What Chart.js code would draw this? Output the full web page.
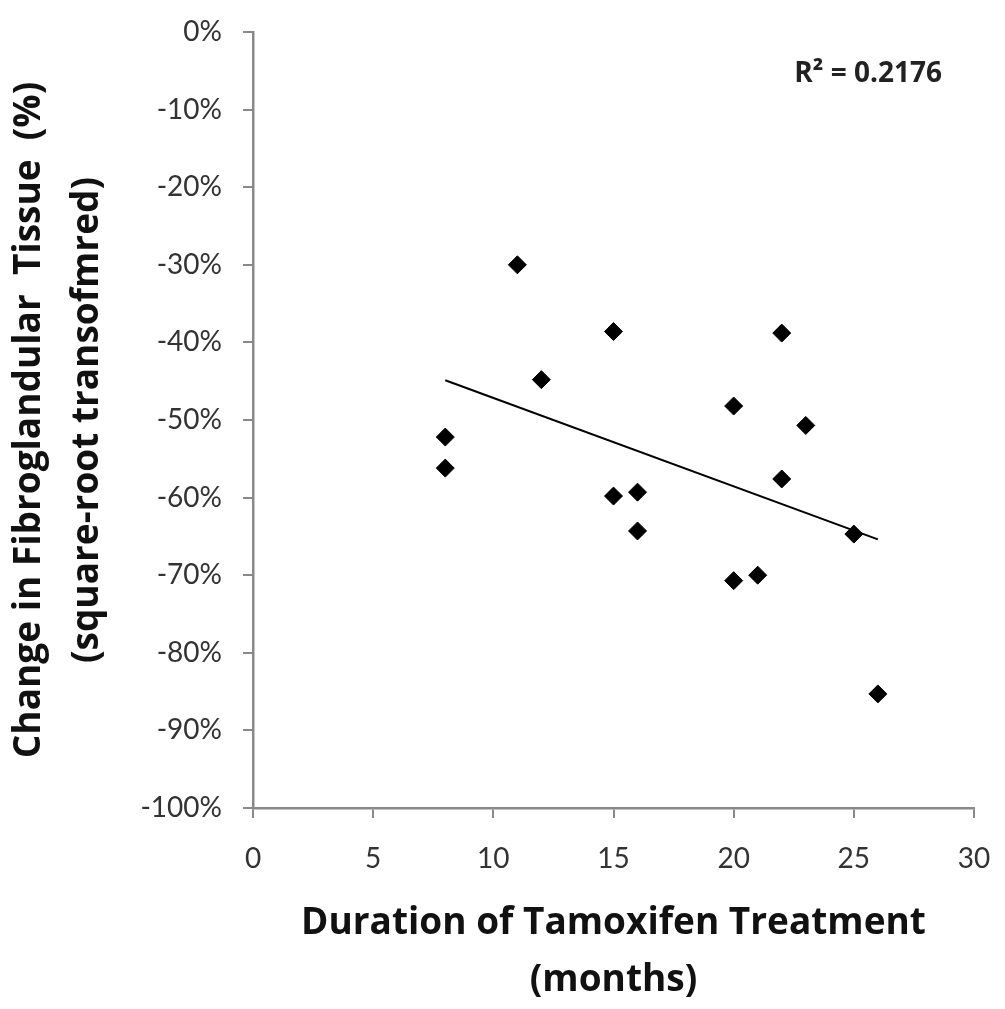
<!DOCTYPE html>
<html>
<head>
<meta charset="utf-8">
<script src="https://cdn.jsdelivr.net/npm/chart.js@4"></script>
<style>
  html, body { margin: 0; padding: 0; background: #fff; }
  #wrap { width: 1005px; height: 1009px; }
</style>
</head>
<body>
<div id="wrap"><canvas id="chart" width="1005" height="1009"></canvas></div>
<script>
// duration of treatment (months) and change in tissue (%) per patient
const months = [8, 8, 11, 12, 15, 15, 16, 16, 20, 20, 21, 22, 22, 23, 25, 26];
const change = [-52.2, -56.2, -30.0, -44.8, -38.6, -59.8, -59.3, -64.3, -48.2, -70.7, -70.0, -38.8, -57.6, -50.7, -64.7, -85.3];

const xTitle = ["Duration of Tamoxifen Treatment", "(months)"];
const yTitle = ["Change in Fibroglandular  Tissue  (%)", "(square-root transofmred)"];
const r2Text = "R\u00B2 = 0.2176";

const axisGrey = "#898989";
const labelColor = "#333";

// linear trend line (least squares) over the data range
const fitLine = (xs, ys) => {
  const n = xs.length;
  const mx = xs.reduce((a, b) => a + b, 0) / n;
  const my = ys.reduce((a, b) => a + b, 0) / n;
  let sxy = 0;
  let sxx = 0;
  xs.forEach((x, i) => {
    sxy += (x - mx) * (ys[i] - my);
    sxx += (x - mx) * (x - mx);
  });
  const slope = sxy / sxx;
  const x0 = Math.min(...xs);
  const x1 = Math.max(...xs);
  return [
    { x: x0, y: my + slope * (x0 - mx) },
    { x: x1, y: my + slope * (x1 - mx) },
  ];
};

const points = months.map((m, i) => ({ x: m, y: change[i] }));

const r2Label = {
  id: "r2Label",
  afterDatasetsDraw(chart) {
    const { ctx, chartArea } = chart;
    ctx.save();
    ctx.font = "bold 28px 'Open Sans'";
    ctx.fillStyle = "#222";
    ctx.textAlign = "right";
    ctx.textBaseline = "alphabetic";
    ctx.fillText(r2Text, chartArea.right - 32, chartArea.top + 50);
    ctx.restore();
  },
};

new Chart(document.getElementById("chart"), {
  type: "scatter",
  data: {
    datasets: [
      {
        label: "data",
        data: points,
        pointStyle: "rectRot",
        pointRadius: 9,
        pointBackgroundColor: "#000",
        pointBorderColor: "#000",
        pointBorderWidth: 1,
        order: 1,
      },
      {
        type: "line",
        label: "trend",
        data: fitLine(months, change),
        borderColor: "#000",
        borderWidth: 2,
        pointRadius: 0,
        fill: false,
        order: 2,
      },
    ],
  },
  options: {
    responsive: false,
    animation: false,
    layout: { padding: { top: 32, right: 31, left: 0, bottom: 0 } },
    plugins: {
      legend: { display: false },
      tooltip: { enabled: false },
    },
    scales: {
      x: {
        type: "linear",
        min: 0,
        max: 30,
        afterFit: (scale) => {
          scale.height = 201;
          scale.paddingLeft = 0;
          scale.paddingRight = 0;
        },
        ticks: {
          stepSize: 5,
          padding: 24,
          color: labelColor,
          font: { family: "Lato", size: 28 },
        },
        grid: {
          drawOnChartArea: false,
          drawTicks: true,
          tickLength: 10,
          color: axisGrey,
          lineWidth: 2,
        },
        border: { color: axisGrey, width: 2.5 },
        title: {
          display: true,
          text: xTitle,
          color: "#111",
          padding: { top: 0, bottom: 0 },
          font: { family: "Open Sans", size: 37, weight: "bold", lineHeight: 1.55 },
        },
      },
      y: {
        min: -100,
        max: 0,
        afterFit: (scale) => {
          scale.width = 253;
          scale.paddingTop = 0;
          scale.paddingBottom = 0;
        },
        ticks: {
          stepSize: 10,
          padding: 21,
          color: labelColor,
          font: { family: "Lato", size: 28 },
          callback: (v) => v + "%",
        },
        grid: {
          drawOnChartArea: false,
          drawTicks: true,
          tickLength: 10,
          color: axisGrey,
          lineWidth: 2,
        },
        border: { color: axisGrey, width: 2.5 },
        title: {
          display: true,
          text: yTitle,
          color: "#111",
          padding: { top: 1, bottom: 0 },
          font: { family: "Open Sans", size: 37, weight: "bold", lineHeight: 1.55 },
        },
      },
    },
  },
  plugins: [r2Label],
});
</script>
</body>
</html>
